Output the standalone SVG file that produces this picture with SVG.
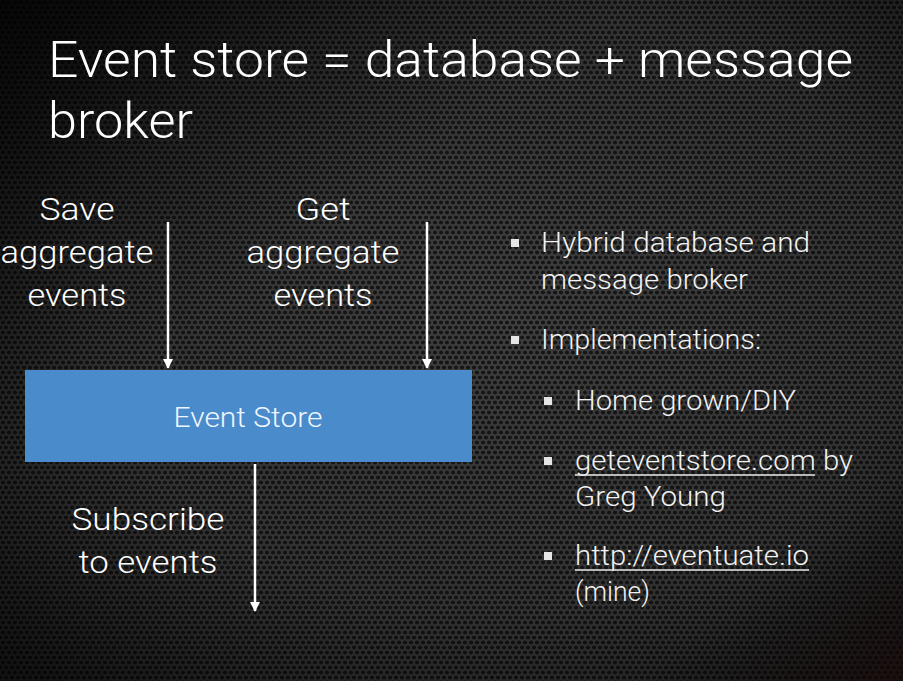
<svg xmlns="http://www.w3.org/2000/svg" width="903" height="681" viewBox="0 0 903 681">
  <defs>
    <pattern id="perf" width="6" height="10" patternUnits="userSpaceOnUse">
      <rect width="6" height="10" fill="#404040"/>
      <circle cx="3" cy="2.5" r="2.1" fill="#161616"/>
      <circle cx="0" cy="7.5" r="2.1" fill="#161616"/>
      <circle cx="6" cy="7.5" r="2.1" fill="#161616"/>
    </pattern>
    <radialGradient id="glow" cx="0.55" cy="0.45" r="0.75">
      <stop offset="0" stop-color="#000" stop-opacity="0"/>
      <stop offset="0.6" stop-color="#000" stop-opacity="0.2"/>
      <stop offset="1" stop-color="#000" stop-opacity="0.7"/>
    </radialGradient>
    <linearGradient id="shade" x1="0" y1="0" x2="1" y2="1">
      <stop offset="0" stop-color="#000" stop-opacity="0.7"/>
      <stop offset="0.35" stop-color="#000" stop-opacity="0"/>
      <stop offset="0.85" stop-color="#000" stop-opacity="0"/>
      <stop offset="1" stop-color="#200808" stop-opacity="0.5"/>
    </linearGradient>
    <marker id="head" viewBox="0 0 10 10" refX="9" refY="5" markerWidth="4" markerHeight="4" orient="auto" markerUnits="strokeWidth">
      <path d="M0,0 L10,5 L0,10 Z" fill="#ffffff"/>
    </marker>
  </defs>
  <style>
    text { font-family: "Roboto", "Liberation Sans", sans-serif; font-weight: 300; fill: #ffffff; }
    .title { font-size: 50px; }
    .lbl { font-size: 32px; text-anchor: middle; }
    .node { font-size: 28px; text-anchor: middle; fill: #eef6ff; }
    .bul { font-size: 27px; fill: #f2f2f2; }
    .sq { fill: #e6e6e6; }
    .link { stroke: #e6e6e6; stroke-width: 1.5; }
    .conn { stroke: #ffffff; stroke-width: 2.5; fill: none; marker-end: url(#head); }
  </style>

  <!-- background -->
  <rect width="903" height="681" fill="url(#perf)"/>
  <rect width="903" height="681" fill="url(#glow)"/>
  <rect width="903" height="681" fill="url(#shade)"/>

  <!-- title -->
  <g id="title">
    <text class="title" x="48" y="77" textLength="805" lengthAdjust="spacingAndGlyphs">Event store = database + message</text>
    <text class="title" x="48" y="138" textLength="145" lengthAdjust="spacingAndGlyphs">broker</text>
  </g>

  <!-- connectors -->
  <g id="connectors">
    <line class="conn" x1="168" y1="222" x2="168" y2="368"/>
    <line class="conn" x1="427" y1="222" x2="427" y2="368"/>
    <line class="conn" x1="255" y1="464" x2="255" y2="611"/>
  </g>

  <!-- event store node -->
  <g id="event-store">
    <rect x="25" y="370" width="447" height="92" fill="#4a8bcb"/>
    <text class="node" x="248" y="427" textLength="149" lengthAdjust="spacingAndGlyphs">Event Store</text>
  </g>

  <!-- arrow labels -->
  <g id="label-save">
    <text class="lbl" x="77" y="220" textLength="75" lengthAdjust="spacingAndGlyphs">Save</text>
    <text class="lbl" x="77" y="263" textLength="153" lengthAdjust="spacingAndGlyphs">aggregate</text>
    <text class="lbl" x="77" y="306" textLength="99" lengthAdjust="spacingAndGlyphs">events</text>
  </g>
  <g id="label-get">
    <text class="lbl" x="323" y="220" textLength="55" lengthAdjust="spacingAndGlyphs">Get</text>
    <text class="lbl" x="323" y="263" textLength="153" lengthAdjust="spacingAndGlyphs">aggregate</text>
    <text class="lbl" x="323" y="306" textLength="99" lengthAdjust="spacingAndGlyphs">events</text>
  </g>
  <g id="label-subscribe">
    <text class="lbl" x="148" y="530" textLength="153" lengthAdjust="spacingAndGlyphs">Subscribe</text>
    <text class="lbl" x="148" y="573" textLength="139" lengthAdjust="spacingAndGlyphs">to events</text>
  </g>

  <!-- bullet list -->
  <g id="bullets">
    <rect class="sq" x="511" y="239" width="8" height="8"/>
    <text class="bul" x="541" y="252" textLength="269" lengthAdjust="spacingAndGlyphs">Hybrid database and</text>
    <text class="bul" x="541" y="289" textLength="207" lengthAdjust="spacingAndGlyphs">message broker</text>

    <rect class="sq" x="511" y="336" width="8" height="8"/>
    <text class="bul" x="541" y="349" textLength="220" lengthAdjust="spacingAndGlyphs">Implementations:</text>

    <rect class="sq" x="544" y="397" width="8" height="8"/>
    <text class="bul" x="575" y="410" textLength="221" lengthAdjust="spacingAndGlyphs">Home grown/DIY</text>

    <rect class="sq" x="544" y="457" width="8" height="8"/>
    <text class="bul" x="575" y="470" textLength="278" lengthAdjust="spacingAndGlyphs">geteventstore.com by</text>
    <line class="link" x1="575" y1="475" x2="815" y2="475"/>
    <text class="bul" x="575" y="506" textLength="151" lengthAdjust="spacingAndGlyphs">Greg Young</text>

    <rect class="sq" x="544" y="552" width="8" height="8"/>
    <text class="bul" x="575" y="565" textLength="234" lengthAdjust="spacingAndGlyphs">http://eventuate.io</text>
    <line class="link" x1="575" y1="570" x2="809" y2="570"/>
    <text class="bul" x="575" y="601" textLength="75" lengthAdjust="spacingAndGlyphs">(mine)</text>
  </g>
</svg>
